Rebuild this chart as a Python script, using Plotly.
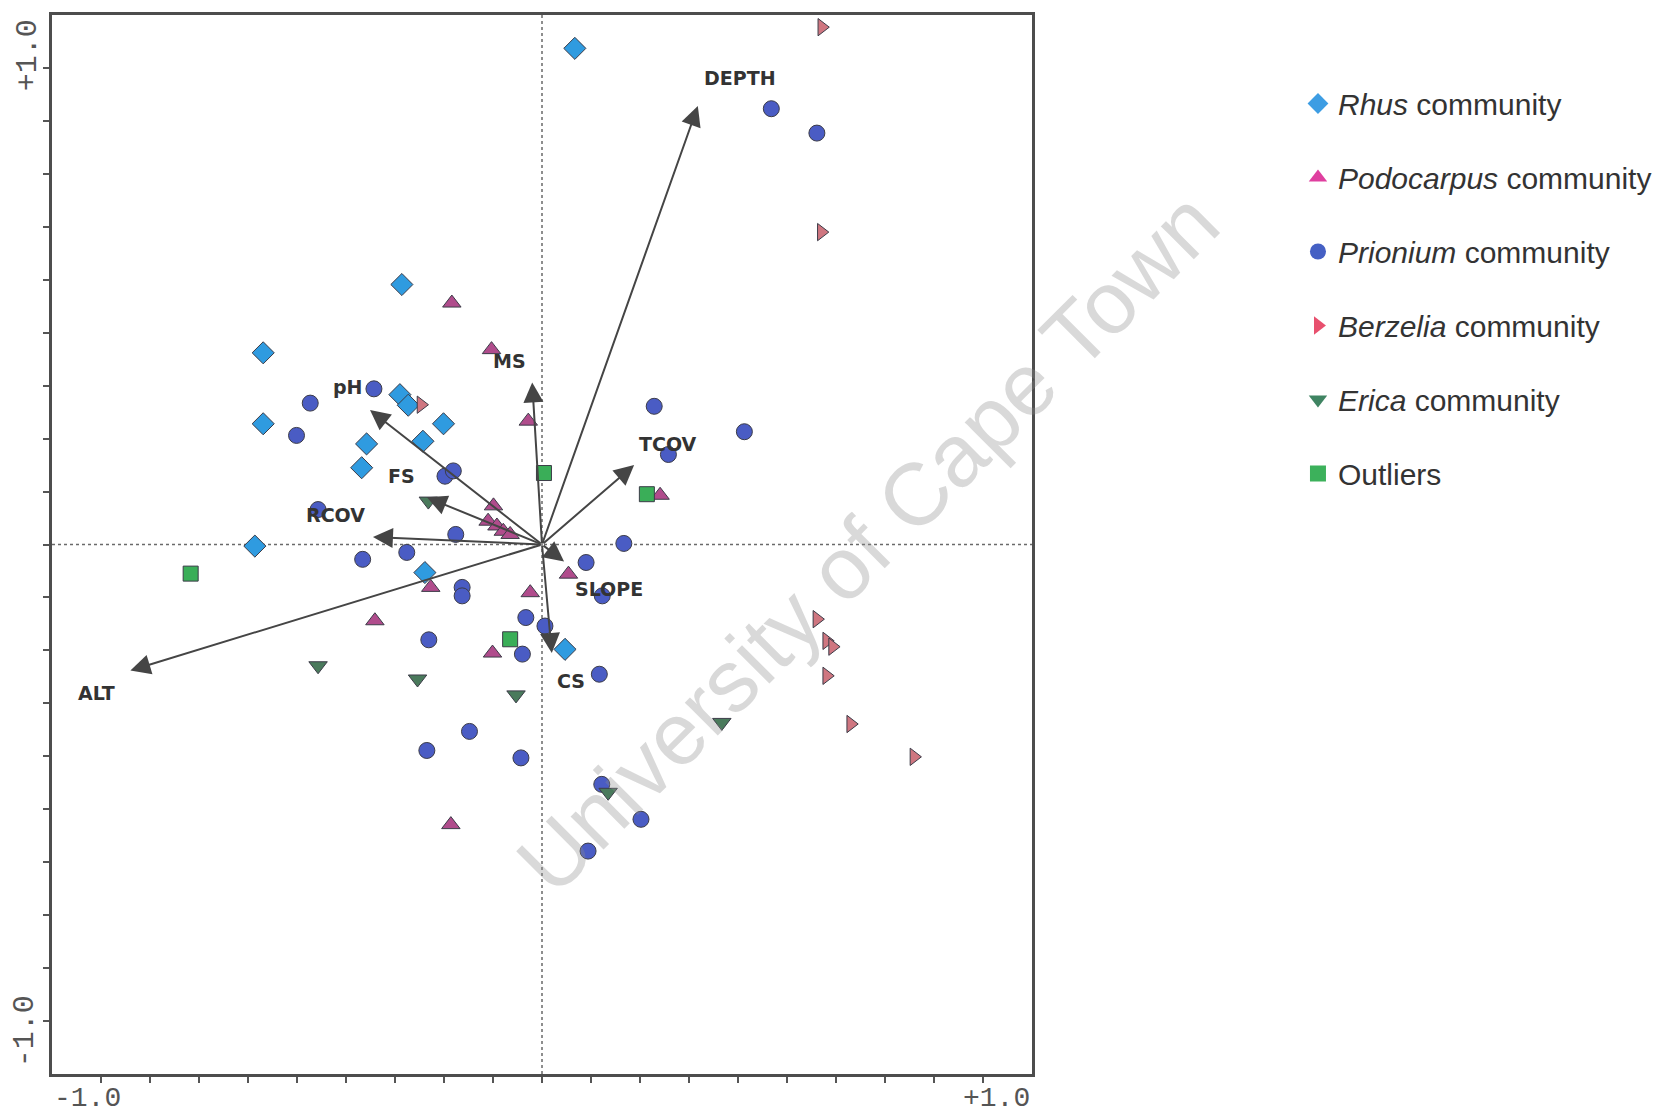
import plotly.graph_objects as go

# ---- site scores (axis 1, axis 2) per community ----
rhus_x = [0.067, -0.286, -0.569, -0.290, -0.273, -0.569, -0.201, -0.243, -0.358, -0.368, -0.586, -0.239, 0.047]
rhus_y = [0.937, 0.491, 0.362, 0.283, 0.263, 0.228, 0.228, 0.195, 0.190, 0.145, -0.003, -0.053, -0.198]

podo_x = [-0.184, -0.103, -0.028, -0.099, -0.110, -0.092, -0.079, -0.065, 0.241, 0.054, -0.227, -0.024, -0.341, -0.101, -0.186]
podo_y = [0.456, 0.368, 0.233, 0.073, 0.044, 0.035, 0.025, 0.019, 0.093, -0.056, -0.081, -0.091, -0.144, -0.205, -0.529]

prio_x = [0.468, 0.561, -0.343, -0.473, -0.501, -0.198, -0.181, -0.457, -0.176, -0.276, -0.366,
          0.229, 0.413, 0.258, 0.167, 0.090, 0.123, -0.163, -0.163, -0.033, 0.006, -0.231, -0.040,
          0.117, -0.148, -0.235, -0.043, 0.122, 0.202, 0.094]
prio_y = [0.823, 0.777, 0.294, 0.267, 0.206, 0.129, 0.139, 0.066, 0.019, -0.015, -0.028,
          0.261, 0.213, 0.170, 0.002, -0.034, -0.097, -0.081, -0.097, -0.138, -0.154, -0.180, -0.207,
          -0.245, -0.353, -0.389, -0.403, -0.453, -0.519, -0.579]

berz_x = [0.571, 0.570, -0.247, 0.561, 0.581, 0.593, 0.581, 0.630, 0.759]
berz_y = [0.977, 0.590, 0.264, -0.141, -0.182, -0.193, -0.248, -0.339, -0.401]

eric_x = [-0.232, -0.457, -0.254, -0.053, 0.135, 0.367]
eric_y = [0.082, -0.229, -0.254, -0.284, -0.468, -0.336]

outl_x = [-0.717, 0.004, 0.214, -0.065]
outl_y = [-0.055, 0.135, 0.095, -0.179]

# ---- environmental variable biplot scores ----
env_names = ["DEPTH", "TCOV", "MS", "pH", "FS", "RCOV", "ALT", "SLOPE", "CS"]
env_x = [0.318, 0.188, -0.020, -0.351, -0.235, -0.345, -0.840, 0.045, 0.020]
env_y = [0.828, 0.150, 0.306, 0.254, 0.089, 0.014, -0.238, -0.032, -0.205]

# label offsets from arrow tips, in pixels (x right, y up)
label_shift = {
    "DEPTH": (42, 28), "TCOV": (34, 21), "MS": (-23, 21), "pH": (-22, 23),
    "FS": (-25, 21), "RCOV": (-37, 22), "ALT": (-34, -22), "SLOPE": (45, -28),
    "CS": (19, -28),
}

groups = [
    ("<i>Rhus</i> community", rhus_x, rhus_y, "diamond", "#2f9be0", "#3d9de3", 17),
    ("<i>Podocarpus</i> community", podo_x, podo_y, "triangle-up", "#b04c8c", "#df3f9f", 16),
    ("<i>Prionium</i> community", prio_x, prio_y, "circle", "#4a5cc4", "#4560c4", 16),
    ("<i>Berzelia</i> community", berz_x, berz_y, "triangle-right", "#cf7680", "#e8506e", 15),
    ("<i>Erica</i> community", eric_x, eric_y, "triangle-down", "#4a7a5c", "#3f8462", 16),
    ("Outliers", outl_x, outl_y, "square", "#3aae58", "#3cb15b", 15),
]

fig = go.Figure()

# dotted cross-hair through the origin
for x0, y0, x1, y1 in [(0, -1, 0, 1), (-1, 0, 1, 0)]:
    fig.add_shape(type="line", x0=x0, y0=y0, x1=x1, y1=y1, xref="x", yref="y",
                  line=dict(color="#6a6a6a", width=1.5, dash="dot"), layer="below")

for name, xs, ys, sym, fill, legcol, size in groups:
    fig.add_trace(go.Scatter(
        x=xs, y=ys, mode="markers", name=name, legendgroup=name, showlegend=False,
        marker=dict(symbol=sym, size=size, color=fill,
                    line=dict(color="#3c3c48", width=1)),
        hoverinfo="skip"))
    fig.add_trace(go.Scatter(
        x=[None], y=[None], mode="markers", name=name, legendgroup=name,
        showlegend=True,
        marker=dict(symbol=sym, size=18, color=legcol, line=dict(width=0))))

# biplot arrows and labels
for nm, ex, ey in zip(env_names, env_x, env_y):
    fig.add_annotation(x=ex, y=ey, ax=0, ay=0, xref="x", yref="y", axref="x", ayref="y",
                       text="", showarrow=True, arrowhead=2, arrowsize=2.0,
                       arrowwidth=2, arrowcolor="#454545", standoff=0)
    dx, dy = label_shift[nm]
    fig.add_annotation(x=ex, y=ey, xref="x", yref="y", text="<b>%s</b>" % nm,
                       showarrow=False, xshift=dx, yshift=dy,
                       font=dict(family="DejaVu Sans", size=19, color="#333333"))

# axis end labels
mono_x = dict(family="Liberation Mono", size=28, color="#555555")
mono_y = dict(family="Liberation Mono", size=30, color="#555555")
fig.add_annotation(x=0, y=-0.0365, xref="paper", yref="paper", text="-1.0", height=26,
                   showarrow=False, xanchor="left", yanchor="bottom", font=mono_x)
fig.add_annotation(x=1, y=-0.0365, xref="paper", yref="paper", text="+1.0", height=26,
                   showarrow=False, xanchor="right", yanchor="bottom", font=mono_x)
fig.add_annotation(x=-0.0245, y=0.962, xref="paper", yref="paper", text="+1.0",
                   textangle=-90, showarrow=False, xanchor="center", yanchor="middle", font=mono_y)
fig.add_annotation(x=-0.0275, y=0.0405, xref="paper", yref="paper", text="-1.0",
                   textangle=-90, showarrow=False, xanchor="center", yanchor="middle", font=mono_y)

# watermark
fig.add_annotation(x=0.832, y=0.502, xref="paper", yref="paper",
                   xanchor="center", yanchor="middle",
                   text="University of Cape Town", textangle=-45, showarrow=False,
                   font=dict(family="Liberation Sans", size=88, color="rgba(140,140,140,0.33)"))

tickv = [round(-0.9 + 0.1 * i, 1) for i in range(19)]
axis_style = dict(range=[-1, 1], showgrid=False, zeroline=False, showline=True,
                  linecolor="#4d4d4d", linewidth=2.5, mirror=True,
                  ticks="outside", ticklen=6, tickwidth=1.5, tickcolor="#555555",
                  tickvals=tickv, showticklabels=False, fixedrange=True)

fig.update_layout(
    width=1673, height=1113,
    margin=dict(l=52, r=641, t=13, b=39),
    paper_bgcolor="white", plot_bgcolor="white",
    xaxis=axis_style, yaxis=axis_style,
    legend=dict(x=1.2714, y=0.941, xanchor="left", yanchor="top",
                font=dict(family="Liberation Sans", size=30, color="#333333"),
                tracegroupgap=32, bgcolor="rgba(0,0,0,0)"),
)

fig.write_html("out.html")
